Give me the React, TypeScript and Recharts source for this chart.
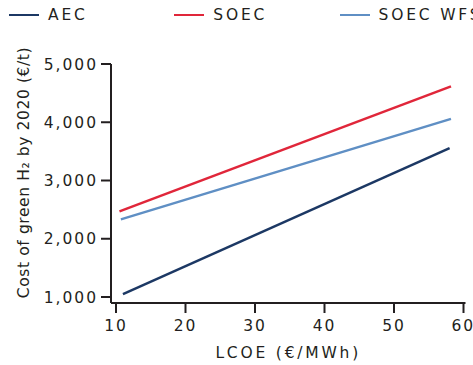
import { LineChart, Line, XAxis, YAxis, Legend, Label } from "recharts";

// LCOE (€/MWh) vs cost of green H2 (€/t)
const aecX = [11, 58];
const aecY = [1050, 3555];
const soecX = [10.5, 58.2];
const soecY = [2470, 4615];
const wfsX = [10.7, 58.2];
const wfsY = [2332, 4058];

const xTicks = [10, 20, 30, 40, 50, 60];
const yTicks = [1000, 2000, 3000, 4000, 5000];

const seriesNames = ["AEC", "SOEC", "SOEC WFS"];
const seriesColors = ["#1c3864", "#e0263a", "#5f8fc4"];

const toRows = (xs: number[], ys: number[]) => xs.map((x, i) => ({ x, y: ys[i] }));

const aecData = toRows(aecX, aecY);
const soecData = toRows(soecX, soecY);
const wfsData = toRows(wfsX, wfsY);

const ink = "#231f20";
const tickStyle = { fontSize: 15.5, fill: ink, letterSpacing: 2 };

const renderLegend = () => (
  <div style={{ height: 30, width: 520, position: "relative", whiteSpace: "nowrap" }}>
    {seriesNames.map((name, i) => (
      <div
        key={name}
        style={{ position: "absolute", left: 9 + i * 165.3, top: 0, height: 30, display: "flex", alignItems: "center" }}
      >
        <div style={{ width: 30, height: 2.5, background: seriesColors[i], marginRight: 9 }} />
        <span style={{ fontSize: 15.5, color: ink, letterSpacing: 2.8 }}>{name}</span>
      </div>
    ))}
  </div>
);

export default function App() {
  return (
    <div
      style={{
        position: "absolute",
        left: 0,
        top: 0,
        width: 473,
        height: 365,
        overflow: "hidden",
        background: "#fff",
        fontFamily: "'DejaVu Sans', sans-serif",
      }}
    >
      <LineChart width={473} height={365} margin={{ top: 34, right: 7.5, left: 0, bottom: 0 }}>
        <Legend verticalAlign="top" content={renderLegend} wrapperStyle={{ top: 0, left: 0 }} />
        <XAxis
          type="number"
          dataKey="x"
          domain={[10, 60]}
          ticks={xTicks}
          padding={{ left: 5, right: 2 }}
          height={62}
          tickSize={10}
          tickMargin={7}
          tick={tickStyle}
          axisLine={{ stroke: ink, strokeWidth: 2 }}
          tickLine={{ stroke: ink, strokeWidth: 2 }}
        >
          <Label value="LCOE (€/MWh)" position="insideBottom" offset={7} fill={ink} fontSize={15.5} letterSpacing={2.8} />
        </XAxis>
        <YAxis
          type="number"
          dataKey="y"
          domain={[1000, 5000]}
          ticks={yTicks}
          padding={{ bottom: 6 }}
          width={111}
          tickSize={10}
          tickMargin={3}
          tick={tickStyle}
          tickFormatter={(v: number) => v.toLocaleString("en-US")}
          axisLine={{ stroke: ink, strokeWidth: 2 }}
          tickLine={{ stroke: ink, strokeWidth: 2 }}
        >
          <Label
            value="Cost of green H₂ by 2020 (€/t)"
            position="center"
            angle={-90}
            dx={-32}
            dy={-11}
            fill={ink}
            fontSize={15.5}
            letterSpacing={0.6}
          />
        </YAxis>
        <Line data={aecData} dataKey="y" name="AEC" stroke={seriesColors[0]} strokeWidth={2.5} dot={false} isAnimationActive={false} />
        <Line data={soecData} dataKey="y" name="SOEC" stroke={seriesColors[1]} strokeWidth={2.5} dot={false} isAnimationActive={false} />
        <Line data={wfsData} dataKey="y" name="SOEC WFS" stroke={seriesColors[2]} strokeWidth={2.5} dot={false} isAnimationActive={false} />
      </LineChart>
    </div>
  );
}
